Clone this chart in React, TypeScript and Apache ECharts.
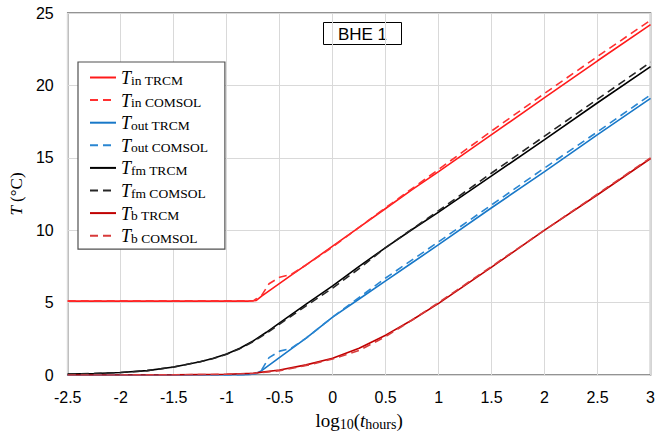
import React, { useEffect, useRef } from "react";
import * as echarts from "echarts";

// log10(t_hours) positions and temperatures (°C) for each curve
const tinTrcmX = [-2.5, -2, -1.5, -1, -0.8, -0.72, -0.67, -0.39, -0.25, 0, 0.25, 0.5, 0.75, 1, 1.5, 2, 2.5, 3];
const tinTrcmY = [5.1, 5.1, 5.1, 5.1, 5.1, 5.15, 5.45, 6.9, 7.6, 8.9, 10.2, 11.5, 12.8, 14.05, 16.6, 19.15, 21.7, 24.2];

const tinComsolX = [-2.5, -2, -1.5, -1, -0.75, -0.67, -0.6, -0.5, -0.39, -0.25, 0, 0.5, 1, 1.5, 2, 2.5, 3];
const tinComsolY = [5.12, 5.12, 5.12, 5.12, 5.12, 5.5, 6.3, 6.75, 6.95, 7.6, 8.85, 11.55, 14.2, 16.85, 19.45, 22.0, 24.5];

const toutTrcmX = [-2.5, -1, -0.8, -0.72, -0.67, -0.39, -0.25, 0, 0.25, 0.5, 0.75, 1, 1.5, 2, 2.5, 3];
const toutTrcmY = [0, 0, 0.02, 0.1, 0.3, 1.8, 2.55, 4.0, 5.25, 6.5, 7.75, 9.0, 11.55, 14.05, 16.6, 19.1];

const toutComsolX = [-2.5, -1, -0.8, -0.72, -0.67, -0.6, -0.5, -0.39, -0.25, 0, 0.5, 1, 1.5, 2, 2.5, 3];
const toutComsolY = [0, 0, 0.02, 0.1, 0.35, 1.2, 1.65, 1.85, 2.55, 4.0, 6.7, 9.2, 11.75, 14.3, 16.8, 19.35];

const tfmTrcmX = [-2.5, -2.25, -2, -1.75, -1.5, -1.25, -1.125, -1, -0.875, -0.75, -0.625, -0.5, -0.25, 0, 0.25, 0.5, 0.75, 1, 1.5, 2, 2.5, 3];
const tfmTrcmY = [0.06, 0.1, 0.17, 0.3, 0.55, 0.92, 1.15, 1.45, 1.85, 2.35, 2.95, 3.6, 4.9, 6.15, 7.5, 8.8, 10.05, 11.25, 13.75, 16.25, 18.8, 21.3];

const tfmComsolX = [-2.5, -2.25, -2, -1.75, -1.5, -1.25, -1.125, -1, -0.875, -0.75, -0.625, -0.5, -0.25, 0, 0.25, 0.5, 1, 1.5, 2, 2.5, 3];
const tfmComsolY = [0.06, 0.1, 0.17, 0.3, 0.55, 0.92, 1.14, 1.43, 1.82, 2.3, 2.88, 3.52, 4.78, 6.0, 7.35, 8.8, 11.35, 13.95, 16.5, 19.05, 21.6];

const tbTrcmX = [-2.5, -1.5, -1, -0.75, -0.5, -0.25, 0, 0.25, 0.5, 0.75, 1, 1.5, 2, 2.5, 3];
const tbTrcmY = [0, 0.01, 0.05, 0.12, 0.35, 0.7, 1.15, 1.85, 2.75, 3.8, 4.95, 7.45, 10.0, 12.45, 14.95];

const tbComsolX = [-2.5, -1.5, -1, -0.75, -0.5, -0.25, 0, 0.25, 0.5, 0.75, 1, 1.5, 2, 2.5, 3];
const tbComsolY = [0, 0.01, 0.05, 0.1, 0.3, 0.65, 1.1, 1.7, 2.65, 3.8, 5.0, 7.5, 10.0, 12.5, 15.0];

// legend entries: [series name, subscript text]
const legendEntries: [string, string][] = [
  ["Tin TRCM", "in TRCM"],
  ["Tin COMSOL", "in COMSOL"],
  ["Tout TRCM", "out TRCM"],
  ["Tout COMSOL", "out COMSOL"],
  ["Tfm TRCM", "fm TRCM"],
  ["Tfm COMSOL", "fm COMSOL"],
  ["Tb TRCM", "b TRCM"],
  ["Tb COMSOL", "b COMSOL"],
];

const xTicks = { min: -2.5, max: 3, step: 0.5 };
const yTicks = { min: 0, max: 25, step: 5 };

const SERIF = "'Liberation Serif', 'DejaVu Serif', serif";
const SANS = "'Liberation Sans', Arial, sans-serif";

function pairs(xs: number[], ys: number[]) {
  return xs.map((x, i) => [x, ys[i]]);
}

export default function App() {
  const ref = useRef<HTMLDivElement>(null);

  useEffect(() => {
    if (!ref.current) return;
    const chart = echarts.init(ref.current, null, { renderer: "svg" });

    const line = (name: string, xs: number[], ys: number[], color: string, dashed: boolean) => ({
      name,
      type: "line",
      data: pairs(xs, ys),
      symbol: "none",
      smooth: false,
      lineStyle: {
        color,
        width: 1.6,
        type: dashed ? [8, 5] : "solid",
      },
      itemStyle: { color },
      z: dashed ? 3 : 2,
    });

    const subMap: Record<string, string> = {};
    legendEntries.forEach(([n, s]) => (subMap[n] = s));

    chart.setOption({
      animation: false,
      grid: {
        left: 67,
        top: 13,
        right: 4,
        bottom: 62,
        show: true,
        borderColor: "#707070",
        borderWidth: 1.5,
        backgroundColor: "#ffffff",
      },
      xAxis: {
        type: "value",
        min: xTicks.min,
        max: xTicks.max,
        interval: xTicks.step,
        axisLine: { show: false },
        axisTick: { show: false },
        splitLine: { show: true, lineStyle: { color: "#d9d9d9", width: 1 } },
        axisLabel: {
          color: "#000",
          fontFamily: SANS,
          fontSize: 16,
          margin: 14,
          formatter: (v: number) => String(v),
        },
        name: "log{s|10}({i|t}{s|hours})",
        nameLocation: "middle",
        nameGap: 35,
        nameTextStyle: {
          color: "#000",
          fontFamily: SERIF,
          fontSize: 19,
          rich: {
            s: { fontFamily: SERIF, fontSize: 14, color: "#000", padding: [7, 0, 0, 0] },
            i: { fontFamily: SERIF, fontSize: 19, fontStyle: "italic", color: "#000" },
          },
        },
      },
      yAxis: {
        type: "value",
        min: yTicks.min,
        max: yTicks.max,
        interval: yTicks.step,
        axisLine: { show: false },
        axisTick: { show: false },
        splitLine: { show: true, lineStyle: { color: "#d9d9d9", width: 1 } },
        axisLabel: {
          color: "#000",
          fontFamily: SANS,
          fontSize: 16,
          margin: 14,
        },
        name: "{i|T} (°C)",
        nameLocation: "middle",
        nameRotate: 90,
        nameGap: 35,
        nameTextStyle: {
          color: "#000",
          fontFamily: SERIF,
          fontSize: 17,
          rich: {
            i: { fontFamily: SERIF, fontSize: 17, fontStyle: "italic", color: "#000" },
          },
        },
      },
      legend: {
        orient: "vertical",
        left: 78,
        top: 62,
        itemWidth: 26,
        itemHeight: 14,
        itemGap: 4.6,
        padding: [7, 17, 4, 11],
        backgroundColor: "#ffffff",
        borderColor: "#505050",
        borderWidth: 1.2,
        borderRadius: 0,
        itemStyle: { opacity: 0 },
        data: legendEntries.map(([n]) => n),
        formatter: (name: string) => `{t|T}{s|${subMap[name]}}`,
        textStyle: {
          color: "#000",
          rich: {
            t: {
              fontFamily: SERIF,
              fontStyle: "italic",
              fontSize: 18,
              lineHeight: 19,
              verticalAlign: "bottom",
              color: "#000",
            },
            s: {
              fontFamily: SERIF,
              fontSize: 13.5,
              lineHeight: 13,
              verticalAlign: "bottom",
              color: "#000",
            },
          },
        },
      },
      graphic: [
        {
          type: "group",
          left: 323,
          top: 22,
          children: [
            {
              type: "rect",
              shape: { x: 0, y: 0, width: 78, height: 22 },
              style: { fill: "#ffffff", stroke: "#000", lineWidth: 1 },
            },
            {
              type: "text",
              x: 39,
              y: 11.5,
              style: {
                text: "BHE 1",
                fill: "#000",
                font: `17px ${SANS}`,
                align: "center",
                verticalAlign: "middle",
              },
            },
          ],
        },
      ],
      series: [
        line("Tin TRCM", tinTrcmX, tinTrcmY, "#ff1a1a", false),
        line("Tin COMSOL", tinComsolX, tinComsolY, "#ff3030", true),
        line("Tout TRCM", toutTrcmX, toutTrcmY, "#1878c8", false),
        line("Tout COMSOL", toutComsolX, toutComsolY, "#2a86d2", true),
        line("Tfm TRCM", tfmTrcmX, tfmTrcmY, "#000000", false),
        line("Tfm COMSOL", tfmComsolX, tfmComsolY, "#262626", true),
        line("Tb TRCM", tbTrcmX, tbTrcmY, "#c00000", false),
        line("Tb COMSOL", tbComsolX, tbComsolY, "#d83a3a", true),
      ],
    });

    return () => chart.dispose();
  }, []);

  return (
    <div
      ref={ref}
      style={{ position: "fixed", left: 0, top: 0, width: 658, height: 437, background: "#fff" }}
    />
  );
}
